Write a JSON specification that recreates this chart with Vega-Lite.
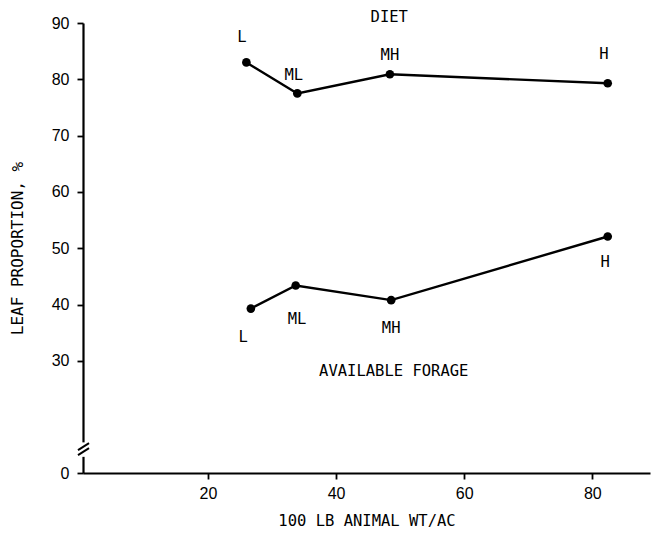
{
  "$schema": "https://vega.github.io/schema/vega-lite/v6.json",
  "width": 567,
  "height": 450,
  "autosize": "none",
  "padding": {"left": 83, "top": 23, "right": 7, "bottom": 68},
  "background": "white",
  "config": {"view": {"stroke": null}},
  "datasets": {
    "pts": [
      {"series": "DIET", "level": "L", "wt": 26.0, "leaf": 83.0},
      {"series": "DIET", "level": "ML", "wt": 33.95, "leaf": 77.5},
      {"series": "DIET", "level": "MH", "wt": 48.4, "leaf": 80.9},
      {"series": "DIET", "level": "H", "wt": 82.4, "leaf": 79.3},
      {"series": "FORAGE", "level": "L", "wt": 26.7, "leaf": 39.3},
      {"series": "FORAGE", "level": "ML", "wt": 33.7, "leaf": 43.4},
      {"series": "FORAGE", "level": "MH", "wt": 48.6, "leaf": 40.8},
      {"series": "FORAGE", "level": "H", "wt": 82.4, "leaf": 52.1}
    ],
    "labels": [
      {"text": "L", "wt": 25.3, "leaf": 87.6},
      {"text": "ML", "wt": 33.4, "leaf": 80.8},
      {"text": "MH", "wt": 48.4, "leaf": 84.3},
      {"text": "H", "wt": 81.8, "leaf": 84.5},
      {"text": "DIET", "wt": 48.3, "leaf": 91.0},
      {"text": "L", "wt": 25.5, "leaf": 34.2},
      {"text": "ML", "wt": 33.9, "leaf": 37.4},
      {"text": "MH", "wt": 48.6, "leaf": 35.8},
      {"text": "H", "wt": 82.0, "leaf": 47.6},
      {"text": "AVAILABLE FORAGE", "wt": 49.0, "leaf": 28.3}
    ],
    "gap": [{"x": -0.3, "x2": 1.2, "y": 5.8, "y2": 11.0}],
    "breaks": [
      {"x": -0.28, "x2": 1.44, "y": 8.21, "y2": 10.71},
      {"x": -0.28, "x2": 1.44, "y": 6.43, "y2": 8.93}
    ]
  },
  "encoding": {
    "x": {
      "type": "quantitative",
      "scale": {"domain": [0.5, 89], "nice": false, "zero": false},
      "axis": {
        "title": "100 LB ANIMAL WT/AC",
        "values": [20, 40, 60, 80],
        "grid": false,
        "domainColor": "black",
        "domainWidth": 2.2,
        "tickColor": "black",
        "tickWidth": 1.8,
        "tickSize": 6,
        "labelFont": "Liberation Sans",
        "labelFontSize": 16,
        "labelColor": "black",
        "labelPadding": 6,
        "titleFont": "DejaVu Sans Mono",
        "titleFontSize": 15.5,
        "titleFontWeight": "normal",
        "titleColor": "black",
        "titlePadding": 12
      }
    },
    "y": {
      "type": "quantitative",
      "scale": {"domain": [0, 20, 90], "range": [450, 394.3, 0], "nice": false, "zero": false},
      "axis": {
        "title": "LEAF PROPORTION, %",
        "values": [0, 30, 40, 50, 60, 70, 80, 90],
        "grid": false,
        "domainColor": "black",
        "domainWidth": 2.2,
        "tickColor": "black",
        "tickWidth": 1.8,
        "tickSize": 6,
        "labelFont": "Liberation Sans",
        "labelFontSize": 16,
        "labelColor": "black",
        "labelPadding": 8,
        "titleFont": "DejaVu Sans Mono",
        "titleFontSize": 16,
        "titleFontWeight": "normal",
        "titleColor": "black",
        "titlePadding": 26
      }
    }
  },
  "layer": [
    {
      "data": {"name": "gap"},
      "mark": {"type": "rect", "fill": "white", "stroke": null},
      "encoding": {
        "x": {"field": "x", "type": "quantitative"},
        "x2": {"field": "x2"},
        "y": {"field": "y", "type": "quantitative"},
        "y2": {"field": "y2"}
      }
    },
    {
      "data": {"name": "breaks"},
      "mark": {"type": "rule", "color": "black", "strokeWidth": 2},
      "encoding": {
        "x": {"field": "x", "type": "quantitative"},
        "x2": {"field": "x2"},
        "y": {"field": "y", "type": "quantitative"},
        "y2": {"field": "y2"}
      }
    },
    {
      "data": {"name": "pts"},
      "mark": {"type": "line", "color": "black", "strokeWidth": 2.4},
      "encoding": {
        "x": {"field": "wt", "type": "quantitative"},
        "y": {"field": "leaf", "type": "quantitative"},
        "detail": {"field": "series"},
        "order": {"field": "wt"}
      }
    },
    {
      "data": {"name": "pts"},
      "mark": {"type": "point", "filled": true, "color": "black", "size": 75, "opacity": 1},
      "encoding": {
        "x": {"field": "wt", "type": "quantitative"},
        "y": {"field": "leaf", "type": "quantitative"}
      }
    },
    {
      "data": {"name": "labels"},
      "mark": {"type": "text", "font": "DejaVu Sans Mono", "fontSize": 15.5, "color": "black", "align": "center", "baseline": "middle"},
      "encoding": {
        "x": {"field": "wt", "type": "quantitative"},
        "y": {"field": "leaf", "type": "quantitative"},
        "text": {"field": "text"}
      }
    }
  ]
}
